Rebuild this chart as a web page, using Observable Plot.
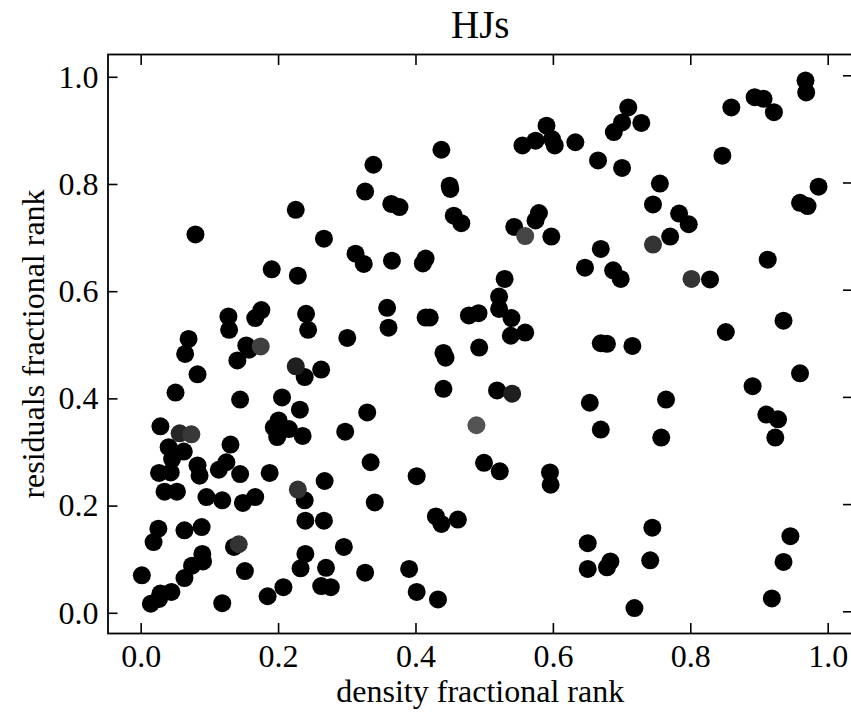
<!DOCTYPE html>
<html>
<head>
<meta charset="utf-8">
<script src="https://cdn.jsdelivr.net/npm/d3@7"></script>
<script src="https://cdn.jsdelivr.net/npm/@observablehq/plot@0.6"></script>
<style>
  html, body { margin: 0; padding: 0; background: #fff; overflow: hidden; width: 851px; height: 713px; }
  #chart svg { display: block; max-width: none !important; width: 856px !important; height: 713px !important; font-family: "Liberation Serif", "Times New Roman", serif; }
</style>
</head>
<body>
<div id="chart"></div>
<script>
const title = "HJs";
const xLabel = "density fractional rank";
const yLabel = "residuals fractional rank";
const xTicks = [0, 0.2, 0.4, 0.6, 0.8, 1.0];
const yTicks = [0, 0.2, 0.4, 0.6, 0.8, 1.0];

// black points
const densityRank = [
  0.967,0.968,0.893,0.906,0.921,0.859,0.846,0.709,0.700,0.688,0.728,0.665,0.700,0.755,0.745,0.783,0.797,0.770,
  0.669,0.687,0.698,0.828,0.912,0.986,0.959,0.970,0.935,0.851,0.669,0.678,0.715,0.764,0.669,0.757,0.959,0.890,
  0.910,0.927,0.923,0.744,0.683,0.678,0.741,0.718,0.945,0.935,0.918,0.360,0.300,0.538,0.559,0.440,0.443,0.492,
  0.440,0.518,0.653,0.329,0.297,0.334,0.401,0.499,0.522,0.595,0.596,0.340,0.429,0.437,0.461,0.295,0.650,0.650,
  0.326,0.390,0.401,0.432,0.590,0.574,0.555,0.598,0.602,0.632,0.437,0.338,0.326,0.449,0.450,0.364,0.376,0.455,
  0.466,0.579,0.574,0.543,0.597,0.646,0.312,0.324,0.365,0.414,0.410,0.529,0.521,0.521,0.539,0.358,0.414,0.420,
  0.477,0.491,0.225,0.079,0.266,0.190,0.228,0.127,0.128,0.175,0.166,0.240,0.243,0.069,0.064,0.153,0.157,0.082,
  0.140,0.238,0.262,0.050,0.144,0.205,0.231,0.028,0.040,0.062,0.045,0.026,0.043,0.082,0.085,0.130,0.124,0.113,
  0.144,0.187,0.193,0.200,0.198,0.215,0.235,0.034,0.052,0.095,0.118,0.148,0.166,0.238,0.267,0.239,0.266,0.025,
  0.018,0.063,0.088,0.135,0.089,0.090,0.074,0.063,0.001,0.151,0.239,0.232,0.269,0.262,0.276,0.207,0.184,0.118,
  0.044,0.028,0.014,0.026
];
const residualRank = [
  0.991,0.969,0.960,0.957,0.932,0.941,0.851,0.941,0.913,0.895,0.912,0.842,0.828,0.799,0.760,0.743,0.723,0.700,
  0.677,0.637,0.621,0.620,0.657,0.793,0.763,0.757,0.543,0.522,0.501,0.500,0.496,0.396,0.340,0.325,0.445,0.421,
  0.368,0.359,0.325,0.157,0.094,0.083,0.096,0.007,0.141,0.093,0.025,0.530,0.511,0.515,0.521,0.483,0.474,0.493,
  0.416,0.413,0.390,0.372,0.336,0.279,0.253,0.278,0.262,0.260,0.237,0.204,0.178,0.164,0.172,0.121,0.128,0.080,
  0.073,0.080,0.037,0.023,0.907,0.879,0.870,0.882,0.870,0.876,0.862,0.834,0.784,0.795,0.789,0.761,0.755,0.739,
  0.725,0.744,0.730,0.718,0.700,0.642,0.668,0.649,0.655,0.659,0.650,0.621,0.588,0.565,0.548,0.567,0.549,0.549,
  0.553,0.557,0.750,0.704,0.696,0.639,0.627,0.551,0.526,0.563,0.548,0.556,0.526,0.509,0.481,0.497,0.489,0.443,
  0.469,0.438,0.452,0.409,0.396,0.400,0.377,0.346,0.307,0.299,0.285,0.259,0.260,0.273,0.254,0.312,0.279,0.265,
  0.257,0.259,0.344,0.357,0.326,0.341,0.328,0.224,0.224,0.214,0.208,0.203,0.214,0.208,0.244,0.170,0.170,0.155,
  0.130,0.152,0.158,0.121,0.108,0.094,0.086,0.063,0.068,0.076,0.108,0.081,0.082,0.048,0.046,0.046,0.029,0.016,
  0.037,0.034,0.015,0.024
];

// lighter (grey) points
const greyDensity  = [0.745, 0.801, 0.540, 0.488, 0.559, 0.174, 0.225, 0.056, 0.073, 0.228, 0.142];
const greyResidual = [0.685, 0.621, 0.407, 0.348, 0.701, 0.495, 0.458, 0.333, 0.331, 0.228, 0.126];
const greyLevel    = [0.20,  0.20,  0.12,  0.33,  0.27,  0.25,  0.12,  0.15,  0.22,  0.20,  0.20];

const black = densityRank.map((d, i) => ({x: d, y: residualRank[i], level: 0}));
const grey = greyDensity.map((d, i) => ({x: d, y: greyResidual[i], level: greyLevel[i]}));

const xDomain = [-0.0483, 1.0354];
const yDomain = [-0.0405, 1.0397];
const fs = 32;

const chart = Plot.plot({
  width: 856,
  height: 713,
  marginLeft: 107.5,
  marginRight: 4,
  marginTop: 54,
  marginBottom: 80,
  style: {fontFamily: '"Liberation Serif", "Times New Roman", serif', background: "#fff", color: "#000", maxWidth: "none"},
  x: {domain: xDomain},
  y: {domain: yDomain},
  color: {type: "linear", domain: [0, 1], range: ["#000000", "#ffffff"]},
  marks: [
    Plot.dot(black, {x: "x", y: "y", r: 9, fill: d => d.level, stroke: null}),
    Plot.dot(grey, {x: "x", y: "y", r: 9, fill: "level", stroke: null}),
    Plot.axisX(xTicks, {anchor: "bottom", tickSize: -10, tickPadding: 21, tickFormat: d3.format(".1f"), fontSize: fs, strokeWidth: 1.6, label: null}),
    Plot.axisX(xTicks, {anchor: "top", tickSize: -10, tickFormat: () => "", strokeWidth: 1.6, label: null}),
    Plot.axisY(yTicks, {anchor: "left", tickSize: -10, tickPadding: 19.5, dy: 1.5, tickFormat: d3.format(".1f"), fontSize: fs, strokeWidth: 1.6, label: null}),
    Plot.axisY(yTicks, {anchor: "right", tickSize: -10, tickFormat: () => "", strokeWidth: 1.6, label: null}),
    Plot.frame({stroke: "#000", strokeWidth: 1.8}),
    Plot.text([title], {frameAnchor: "top", textAnchor: "middle", lineAnchor: "bottom", dy: -16.7, fontSize: 39, fill: "#000"}),
    Plot.text([xLabel], {frameAnchor: "bottom", textAnchor: "middle", lineAnchor: "bottom", dy: 68, fontSize: fs, fill: "#000"}),
    Plot.text([yLabel], {frameAnchor: "left", textAnchor: "middle", lineAnchor: "bottom", rotate: -90, dx: -64.5, fontSize: fs, fill: "#000"})
  ]
});
document.getElementById("chart").appendChild(chart);
</script>
</body>
</html>
